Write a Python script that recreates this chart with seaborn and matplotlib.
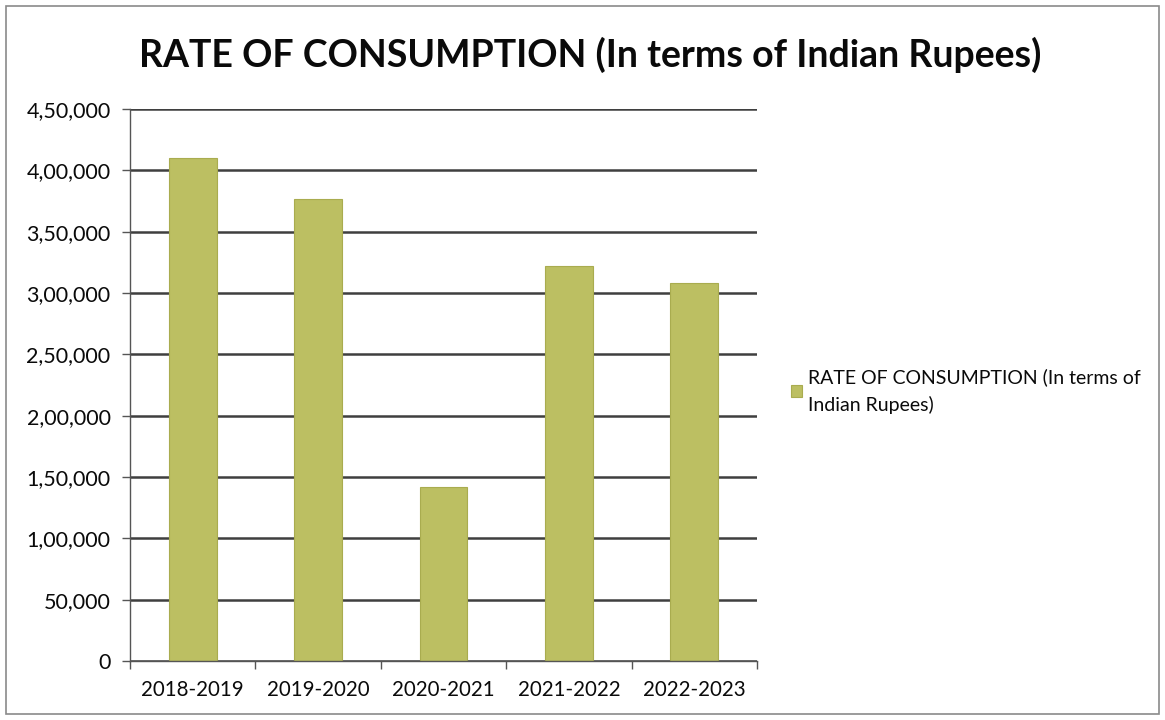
import matplotlib
matplotlib.use("Agg")
import matplotlib.pyplot as plt
import seaborn as sns
import pandas as pd
from matplotlib.ticker import FuncFormatter, FixedLocator
from matplotlib.patches import Rectangle

years = ["2018-2019", "2019-2020", "2020-2021", "2021-2022", "2022-2023"]
consumption = [410000, 377000, 142000, 322000, 308000]
series_label = "RATE OF CONSUMPTION (In terms of\nIndian Rupees)"
title = "RATE OF CONSUMPTION (In terms of Indian Rupees)"
y_ticks = [0, 50000, 100000, 150000, 200000, 250000, 300000, 350000, 400000, 450000]

sns.set_theme(style="white")
plt.rcParams["font.family"] = ["Lato", "DejaVu Sans"]

df = pd.DataFrame({"year": years, "value": consumption})

fig = plt.figure(figsize=(11.65, 7.2), dpi=100)
ax = fig.add_axes([130 / 1165, 1 - 661 / 720, 627 / 1165, 552 / 720])

sns.barplot(data=df, x="year", y="value", color="#BCBF62", saturation=1,
            width=0.38, edgecolor="#A9AC4F", linewidth=0.8,
            label=series_label, ax=ax)

ax.set_ylim(0, 450000)
ax.set_xlim(-0.5, 4.5)


def indian(v, pos):
    v = int(round(v))
    s = str(v)
    if len(s) <= 3:
        return s
    last3 = s[-3:]
    rest = s[:-3]
    groups = []
    while len(rest) > 2:
        groups.insert(0, rest[-2:])
        rest = rest[:-2]
    if rest:
        groups.insert(0, rest)
    return ",".join(groups) + "," + last3


ax.yaxis.set_major_locator(FixedLocator(y_ticks))
ax.yaxis.set_major_formatter(FuncFormatter(indian))
ax.yaxis.grid(True, color="#3f3f3f", linewidth=1.8)
ax.set_axisbelow(True)

ax.set_xticks(range(len(years)))
ax.set_xticklabels(years)
ax.set_xticks([i - 0.5 for i in range(len(years) + 1)], minor=True)
ax.tick_params(axis="x", which="major", length=0, pad=14, labelsize=14.8, colors="#0a0a0a")
ax.tick_params(axis="x", which="minor", length=6, width=1, color="#555555", direction="out", bottom=True)
ax.tick_params(axis="y", which="major", length=6, width=1, color="#555555", direction="out",
               left=True, pad=8, labelsize=15.5, labelcolor="#0a0a0a")

for side in ["top", "right"]:
    ax.spines[side].set_visible(False)
for side in ["left", "bottom"]:
    ax.spines[side].set_visible(True)
    ax.spines[side].set_color("#555555")
    ax.spines[side].set_linewidth(1.0)

ax.set_xlabel("")
ax.set_ylabel("")

fig.text(590 / 1165, 1 - 55 / 720, title, ha="center", va="center",
         fontsize=27, fontweight="bold", color="#0a0a0a")

handles, labels = ax.get_legend_handles_labels()
if ax.get_legend() is not None:
    ax.get_legend().remove()
leg = fig.legend(handles, labels, loc="upper left", bbox_to_anchor=(783 / 1165, 1 - 360 / 720),
                 frameon=False, fontsize=14, handlelength=0.6, handleheight=0.6,
                 handletextpad=0.3, borderaxespad=0)
for t in leg.get_texts():
    t.set_linespacing(1.7)
    t.set_color("#0a0a0a")

fig.patches.append(Rectangle((6 / 1165, 6 / 720), 1153 / 1165, 708 / 720,
                             transform=fig.transFigure, fill=False,
                             edgecolor="#8a8a8a", linewidth=1.2))

fig.savefig("out.png", dpi=100)
